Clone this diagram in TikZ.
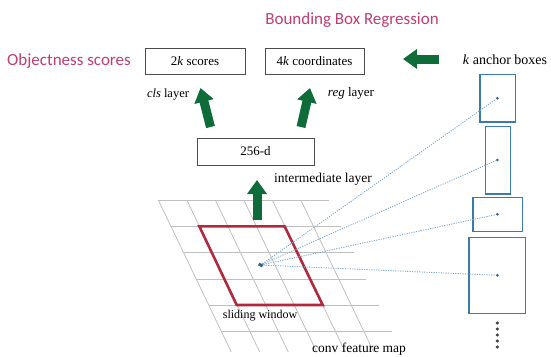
\documentclass[tikz,border=0pt]{standalone}
\usepackage{fontspec}
\setmainfont{Liberation Serif}
\newfontfamily\pinkfont{Carlito}
\usetikzlibrary{arrows.meta}
\definecolor{pinkt}{RGB}{190,62,112}
\definecolor{darkg}{RGB}{14,107,58}
\definecolor{anch}{RGB}{58,124,165}
\definecolor{redw}{RGB}{178,40,60}
\definecolor{gridc}{RGB}{192,192,192}
\definecolor{dotl}{RGB}{130,172,205}
\begin{document}
\begin{tikzpicture}[x=1pt,y=-1pt,
  lbox/.style={draw=black!70, line width=0.9pt, inner sep=0pt, minimum height=26pt, font=\fontsize{13}{15}\selectfont},
  lbl/.style={inner sep=0pt, font=\fontsize{12.5}{14}\selectfont},
  pinklbl/.style={inner sep=0pt, text=pinkt, font=\pinkfont\fontsize{17}{20}\selectfont},
  bigarrow/.style={draw=darkg, line width=9pt, line cap=butt, -{Triangle[width=19pt,length=14pt]}},
  gridline/.style={draw=gridc, line width=0.8pt},
  anchorbox/.style={draw=anch, line width=1.2pt, inner sep=0pt},
  anchordot/.style={circle, fill=anch!85!black, inner sep=0pt, minimum size=3pt},
  vdot/.style={circle, fill=black!75, inner sep=0pt, minimum size=3.4pt},
  dotline/.style={draw=dotl, line width=0.9pt, dash pattern=on 1.2pt off 1.2pt},
  window/.style={draw=redw, line width=2.6pt, line join=miter}
]
\useasboundingbox (0,0) rectangle (551,356);

% grid (conv feature map)
\foreach \i in {0,...,5} {
  \draw[gridline] ({158.3+28.5*\i},200) -- ({158.3+28.5*\i+0.48*152},352);
}
\foreach \j in {0,...,5} {
  \pgfmathsetmacro\yy{200+26.3*\j}
  \draw[gridline] ({158.3+0.48*(\yy-200)},\yy) -- ({328.5+0.48*(\yy-200)},\yy);
}

% sliding window
\draw[window] (199.3,226.3) -- (284.6,226.3) -- (322.7,305) -- (236.7,305) -- cycle;
\node[fill=anch!85!black, inner sep=0pt, minimum width=4.5pt, minimum height=3pt, rotate=-25] (c) at (260.7,265) {};

% titles
\node[pinklbl] (bbr) at (352,20) {Bounding Box Regression};
\node[pinklbl] (obj) at (69,61) {Objectness scores};

% boxes
\node[lbox, minimum width=100pt] (cls) at (195,61.5) {2\textit{k} scores};
\node[lbox, minimum width=99pt] (reg) at (314.5,61.5) {4\textit{k} coordinates};
\node[lbox, minimum width=117pt, minimum height=27pt] (mid) at (255.5,151.5) {256-d};

\node[lbl] (clst) at (168,95) {\textit{cls} layer};
\node[lbl, font=\fontsize{13}{15}\selectfont] (regt) at (351,93) {\textit{reg} layer};
\node[lbl, font=\fontsize{13.5}{15}\selectfont] (midt) at (323,179) {intermediate layer};
\node[lbl, font=\fontsize{12}{14}\selectfont] (swt) at (260,316) {sliding window};
\node[lbl, font=\fontsize{13.5}{15}\selectfont] (cfm) at (359,349) {conv feature map};
\node[lbl, font=\fontsize{14}{16}\selectfont] (kab) at (505,60) {\textit{k} anchor boxes};

% green arrows
\coordinate (a1s) at (210.5,127);
\coordinate (a1e) at (200.5,88);
\coordinate (a2s) at (301,127);
\coordinate (a2e) at (310,88);
\coordinate (a3s) at (257,220);
\coordinate (a3e) at (257,180);
\coordinate (a4s) at (439,59);
\coordinate (a4e) at (403,59);
\draw[bigarrow] (a1s) -- (a1e);
\draw[bigarrow] (a2s) -- (a2e);
\draw[bigarrow] (a3s) -- (a3e);
\draw[bigarrow] (a4s) -- (a4e);

% anchor boxes
\node[anchorbox, minimum width=35.7pt, minimum height=47.7pt] (b1) at (497.8,98.2) {};
\node[anchorbox, minimum width=25.4pt, minimum height=67.3pt] (b2) at (498,160.4) {};
\node[anchorbox, minimum width=49.7pt, minimum height=34pt] (b3) at (497.8,214.7) {};
\node[anchorbox, minimum width=56.7pt, minimum height=76pt] (b4) at (497.3,275.3) {};
\node[anchordot] (d1) at (497.3,98.3) {};
\node[anchordot] (d2) at (497.3,160) {};
\node[anchordot] (d3) at (497.3,214.3) {};
\node[anchordot] (d4) at (497.3,275.3) {};
\foreach \k in {0,...,4} {
  \node[vdot] (v\k) at (497.3,{323+6*\k}) {};
}

% dotted connectors
\draw[dotline] (c) -- (d1);
\draw[dotline] (c) -- (d2);
\draw[dotline] (c) -- (d3);
\draw[dotline] (c) -- (d4);
\end{tikzpicture}
\end{document}
